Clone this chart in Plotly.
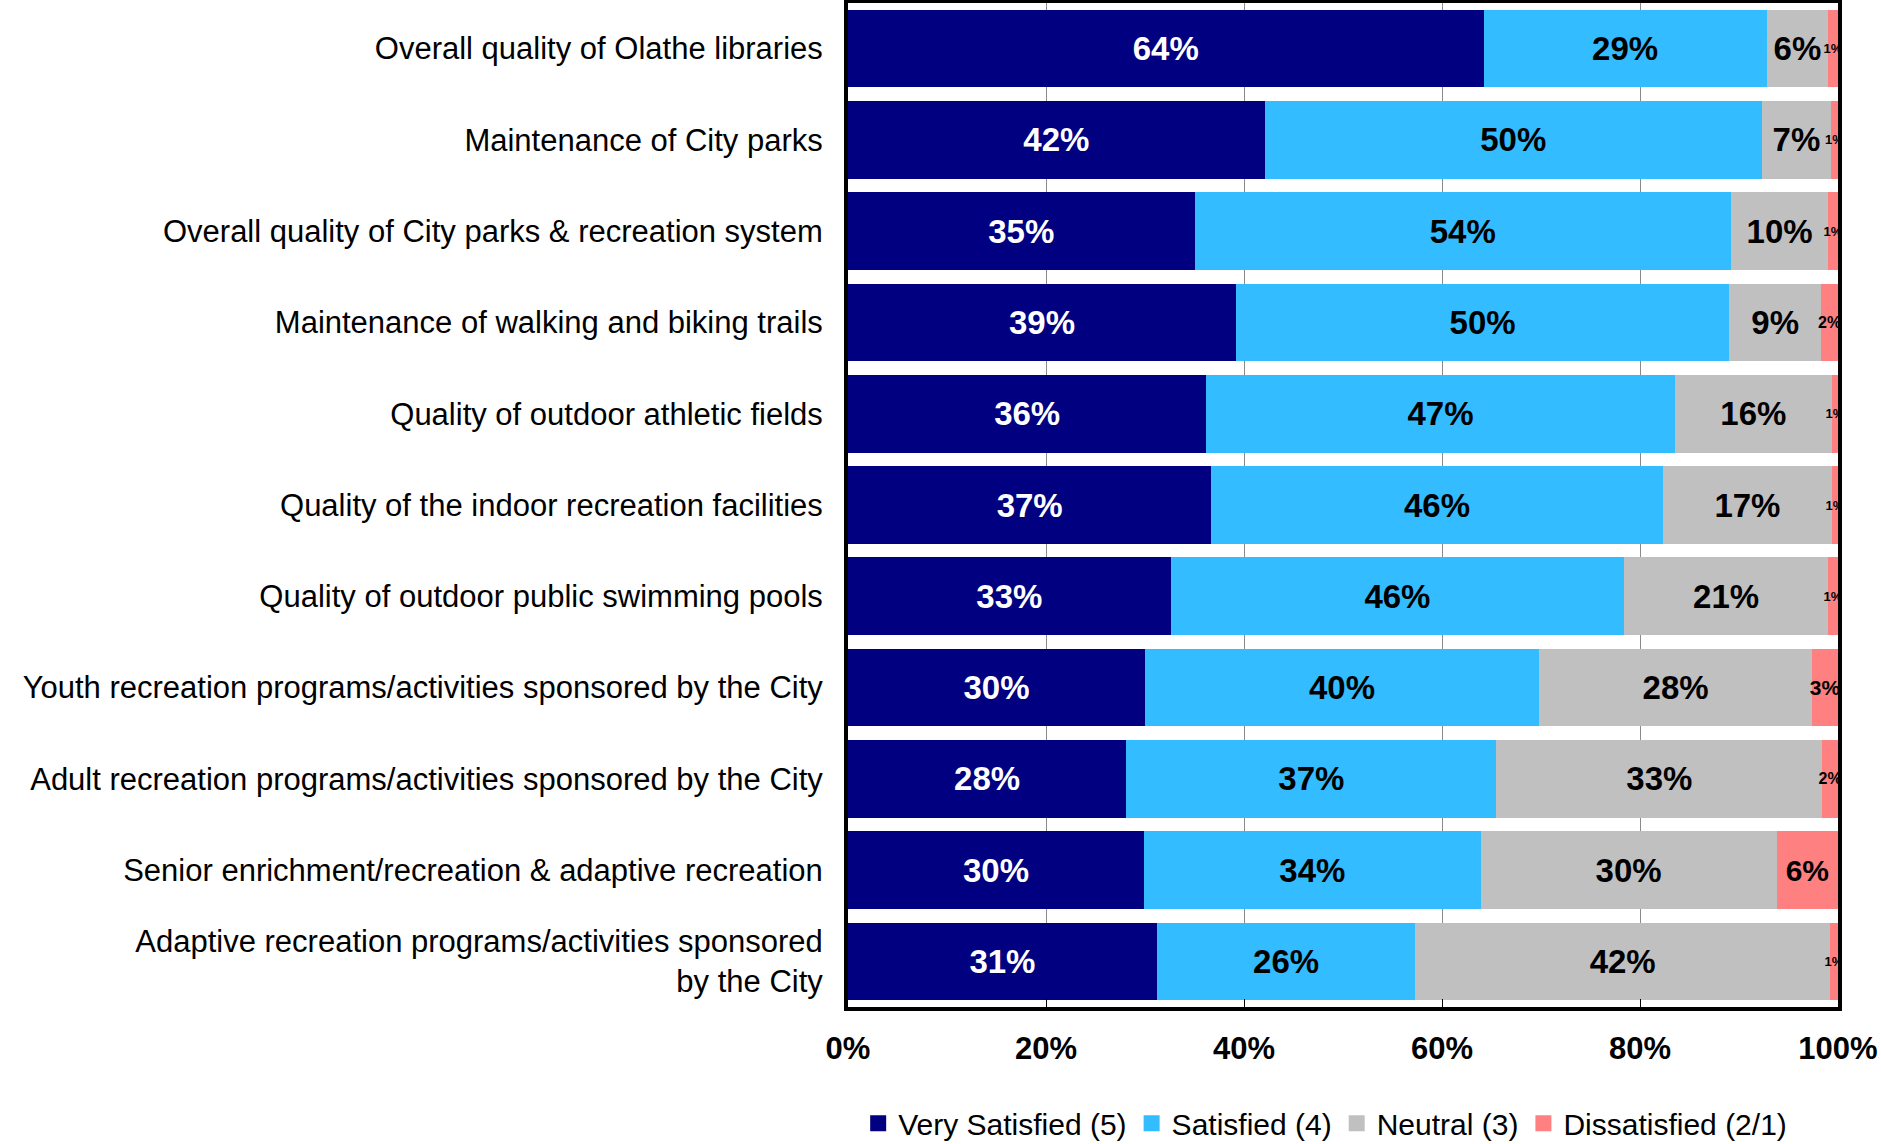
import plotly.graph_objects as go

categories = [
    "Overall quality of Olathe libraries",
    "Maintenance of City parks",
    "Overall quality of City parks & recreation system",
    "Maintenance of walking and biking trails",
    "Quality of outdoor athletic fields",
    "Quality of the indoor recreation facilities",
    "Quality of outdoor public swimming pools",
    "Youth recreation programs/activities sponsored by the City",
    "Adult recreation programs/activities sponsored by the City",
    "Senior enrichment/recreation & adaptive recreation",
    "Adaptive recreation programs/activities sponsored<br>by the City",
]

very_satisfied = [64.2, 42.1, 35.0, 39.2, 36.2, 36.7, 32.6, 30.0, 28.1, 29.9, 31.2]
satisfied      = [28.6, 50.2, 54.2, 49.8, 47.3, 45.6, 45.8, 39.8, 37.4, 34.0, 26.1]
neutral        = [6.2, 7.0, 9.8, 9.3, 15.9, 17.1, 20.6, 27.6, 32.9, 29.9, 41.9]
dissatisfied   = [1.0, 0.7, 1.0, 1.7, 0.6, 0.6, 1.0, 2.6, 1.6, 6.2, 0.8]

series_names = ["Very Satisfied (5)", "Satisfied (4)", "Neutral (3)", "Dissatisfied (2/1)"]
tick_values = [0, 20, 40, 60, 80, 100]
tick_labels = ["0%", "20%", "40%", "60%", "80%", "100%"]

colors = ["#000080", "#33BCFF", "#C0C0C0", "#FF8080"]
FONT = "Liberation Sans Narrow, Arial Narrow, Liberation Sans, Arial, sans-serif"
small_label_size = {"1%": 13, "2%": 16, "3%": 21, "4%": 24, "5%": 26}

fig = go.Figure()
for name, vals, col in zip(series_names,
                           [very_satisfied, satisfied, neutral, dissatisfied],
                           colors):
    labels = [f"{v:.0f}%" for v in vals]
    if name.startswith("Dissatisfied"):
        sizes = [small_label_size.get(t, 30) for t in labels]
    else:
        sizes = 33
    fig.add_trace(go.Bar(
        y=categories, x=vals, name=name, orientation="h",
        marker=dict(color=col, line=dict(width=0)),
        text=labels, textposition="inside", insidetextanchor="middle",
        textangle=0, constraintext="none",
        textfont=dict(family=FONT, size=sizes, weight="bold",
                      color="white" if name.startswith("Very") else "black"),
        hoverinfo="skip", showlegend=False,
    ))

# legend entries with larger square swatches
for name, col in zip(series_names, colors):
    fig.add_trace(go.Scatter(
        x=[None], y=[None], mode="markers", name=name,
        marker=dict(symbol="square", size=16, color=col),
        hoverinfo="skip", showlegend=True,
    ))

fig.update_layout(
    width=1881, height=1144,
    barmode="stack", bargap=0.15,
    plot_bgcolor="white", paper_bgcolor="white",
    margin=dict(l=848, r=43, t=3, b=137, autoexpand=False),
    font=dict(family=FONT, color="black"),
    legend=dict(orientation="h", x=0.482, xanchor="center", y=-0.09, yanchor="top",
                font=dict(size=30, family=FONT), traceorder="normal",
                itemwidth=30, tracegroupgap=0),
    xaxis=dict(range=[0, 100], tickvals=tick_values, ticktext=tick_labels,
               showline=True, linewidth=4, linecolor="black", mirror=True,
               showgrid=True, gridcolor="#8a8a8a", gridwidth=1,
               ticks="inside", ticklen=8, tickcolor="black",
               tickfont=dict(size=31, family=FONT, weight="bold"),
               ticklabelstandoff=11, zeroline=False, fixedrange=True),
    yaxis=dict(autorange="reversed", showline=True, linewidth=4, linecolor="black",
               mirror=True, ticks="", tickfont=dict(size=31, family=FONT),
               ticklabelstandoff=15, fixedrange=True),
)

fig.write_html("out.html", config={"displayModeBar": False},
               post_script="document.body.style.margin='0px';document.body.style.overflow='hidden';")
